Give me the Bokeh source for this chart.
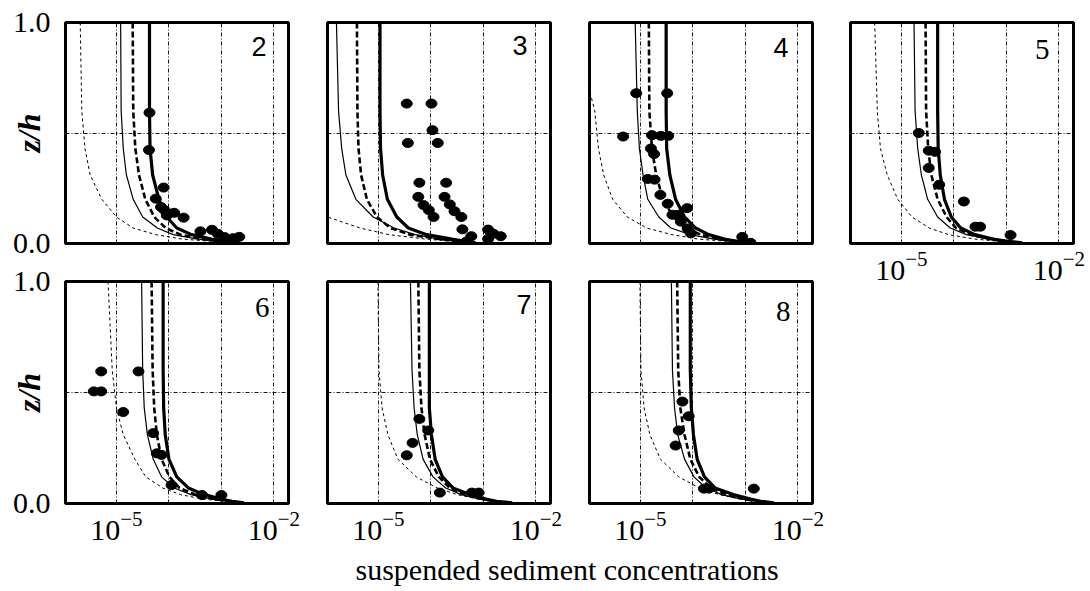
from bokeh.plotting import figure
from bokeh.layouts import row, column
from bokeh.models import FixedTicker, Label, PrintfTickFormatter, Range1d, LogTickFormatter
from bokeh.embed import file_html
from bokeh.resources import INLINE

# ---------------- data (concentrations as log10 values) ----------------
Z_LEVELS = [1.0, 0.6, 0.43, 0.31, 0.2, 0.12, 0.07, 0.04, 0.02, 0.01, 0.003]

P2_THICK = [-4.37, -4.37, -4.36, -4.31, -4.19, -4.04, -3.85, -3.57, -3.19, -2.90, -2.66]
P2_THICK_DASH = [-4.69, -4.68, -4.64, -4.57, -4.45, -4.28, -4.06, -3.78, -3.36, -3.00, -2.66]
P2_THIN = [-4.92, -4.91, -4.87, -4.81, -4.68, -4.50, -4.22, -3.92, -3.45, -3.05, -2.66]
P2_THIN_DASH = [-5.69, -5.66, -5.60, -5.50, -5.28, -5.00, -4.68, -4.25, -3.75, -3.20, -2.66]
P2_OBS_C = [-4.37, -4.38, -4.10, -4.25, -4.15, -4.04, -3.90, -3.72, -3.40, -3.18, -3.07, -2.94, -2.78, -2.66, -4.08]
P2_OBS_Z = [0.592, 0.423, 0.253, 0.203, 0.165, 0.127, 0.139, 0.117, 0.055, 0.062, 0.044, 0.029, 0.024, 0.030, 0.150]

P3_THICK = [-4.97, -4.97, -4.96, -4.92, -4.83, -4.65, -4.43, -4.08, -3.60, -3.35, -3.15]
P3_THICK_DASH = [-5.41, -5.40, -5.38, -5.33, -5.22, -5.03, -4.77, -4.40, -3.85, -3.45, -3.15]
P3_THIN = [-5.80, -5.76, -5.70, -5.62, -5.43, -5.10, -4.70, -4.30, -3.85, -3.50, -3.15]
P3_THIN_DASH = [-7.5, -7.2, -6.9, -6.6, -6.3, -5.97, -5.35, -4.80, -4.10, -3.60, -3.15]
P3_OBS_C = [-4.46, -3.99, -3.97, -4.44, -3.87, -4.22, -3.71, -4.24, -3.74, -4.14, -3.64, -4.04,
            -3.55, -3.95, -3.42, -3.40, -3.23, -2.91, -2.81, -2.67, -3.32, -2.91]
P3_OBS_Z = [0.633, 0.633, 0.513, 0.455, 0.455, 0.275, 0.275, 0.211, 0.211, 0.174, 0.177, 0.151,
            0.146, 0.120, 0.120, 0.064, 0.033, 0.063, 0.044, 0.033, 0.009, 0.021]

P4_THICK = [-4.51, -4.51, -4.50, -4.44, -4.33, -4.16, -3.95, -3.70, -3.40, -3.15, -2.84]
P4_THICK_DASH = [-4.84, -4.83, -4.78, -4.70, -4.57, -4.37, -4.15, -3.85, -3.48, -3.20, -2.84]
P4_THIN = [-5.10, -5.06, -5.02, -4.95, -4.86, -4.65, -4.42, -4.05, -3.60, -3.25, -2.84]
P4_THIN_DASH = [-6.30, -5.87, -5.80, -5.70, -5.53, -5.25, -4.88, -4.40, -3.90, -3.35, -2.84]
P4_OBS_C = [-5.08, -4.49, -5.33, -4.78, -4.61, -4.47, -4.80, -4.74, -4.86, -4.73, -4.62, -4.48,
            -4.39, -4.29, -4.11, -4.23, -4.10, -4.04, -3.06, -2.90]
P4_OBS_Z = [0.680, 0.680, 0.484, 0.490, 0.487, 0.487, 0.430, 0.405, 0.292, 0.289, 0.220, 0.180,
            0.130, 0.130, 0.160, 0.099, 0.068, 0.046, 0.030, 0.003]

P5_THICK = [-4.31, -4.31, -4.30, -4.26, -4.18, -4.05, -3.87, -3.60, -3.25, -2.98, -2.70]
P5_THICK_DASH = [-4.54, -4.53, -4.49, -4.43, -4.31, -4.14, -3.96, -3.68, -3.30, -3.02, -2.70]
P5_THIN = [-4.76, -4.74, -4.69, -4.62, -4.50, -4.31, -4.07, -3.76, -3.35, -3.05, -2.70]
P5_THIN_DASH = [-5.51, -5.46, -5.40, -5.27, -5.07, -4.80, -4.47, -4.10, -3.60, -3.15, -2.70]
P5_OBS_C = [-4.67, -4.48, -4.36, -4.48, -4.28, -3.81, -3.59, -3.50, -2.92]
P5_OBS_Z = [0.500, 0.420, 0.415, 0.342, 0.266, 0.190, 0.076, 0.076, 0.038]

P6_THICK = [-4.11, -4.11, -4.10, -4.07, -4.00, -3.85, -3.63, -3.33, -3.00, -2.80, -2.57]
P6_THICK_DASH = [-4.33, -4.31, -4.28, -4.23, -4.14, -3.99, -3.80, -3.50, -3.12, -2.85, -2.57]
P6_THIN = [-4.52, -4.50, -4.47, -4.41, -4.30, -4.14, -3.90, -3.58, -3.18, -2.88, -2.57]
P6_THIN_DASH = [-5.16, -5.08, -5.00, -4.87, -4.65, -4.44, -4.12, -3.78, -3.35, -2.95, -2.57]
P6_OBS_C = [-5.29, -4.58, -5.43, -5.29, -4.87, -4.30, -4.23, -4.14, -3.95, -3.37, -3.00]
P6_OBS_Z = [0.595, 0.595, 0.505, 0.505, 0.412, 0.317, 0.226, 0.219, 0.083, 0.038, 0.038]

P7_THICK = [-4.03, -4.03, -4.03, -3.99, -3.92, -3.78, -3.58, -3.25, -2.95, -2.75, -2.45]
P7_THICK_DASH = [-4.24, -4.22, -4.18, -4.12, -4.02, -3.85, -3.64, -3.35, -3.02, -2.78, -2.45]
P7_THIN = [-4.39, -4.36, -4.32, -4.26, -4.15, -3.96, -3.72, -3.42, -3.07, -2.80, -2.45]
P7_THIN_DASH = [-5.01, -4.99, -4.93, -4.82, -4.63, -4.28, -3.88, -3.50, -3.10, -2.82, -2.45]
P7_OBS_C = [-4.22, -4.05, -4.35, -4.46, -3.83, -3.22, -3.09]
P7_OBS_Z = [0.381, 0.329, 0.273, 0.217, 0.049, 0.049, 0.049]

P8_THICK = [-4.05, -4.05, -4.03, -3.99, -3.92, -3.78, -3.58, -3.23, -2.90, -2.71, -2.46]
P8_THICK_DASH = [-4.30, -4.28, -4.24, -4.16, -4.05, -3.88, -3.66, -3.36, -3.02, -2.78, -2.46]
P8_THIN = [-4.41, -4.39, -4.35, -4.29, -4.16, -3.98, -3.75, -3.45, -3.08, -2.80, -2.46]
P8_THIN_DASH = [-5.01, -4.99, -4.93, -4.82, -4.62, -4.27, -3.88, -3.50, -3.10, -2.82, -2.46]
P8_OBS_C = [-4.20, -4.08, -4.27, -4.33, -3.79, -3.70, -2.84]
P8_OBS_Z = [0.459, 0.393, 0.329, 0.261, 0.067, 0.067, 0.067]

GRID_DECADES = [1e-5, 1e-4, 1e-3, 1e-2]
X_TICKS = [1e-5, 1e-2]
Y_TICKS = [0.0, 1.0]
Y_GRID = [0.5]
X_TITLE = "suspended sediment concentrations"
Y_TITLE = "z/h"

# ---------------- layout constants (page has no margin) ----------------
X_MIN, X_MAX = 1.07e-6, 1.9e-2
FW = 223
LEFTS = [65, 20, 20, 20]
RIGHTS = [19, 19, 18, 15]
TOP_ROW = dict(top=22, fh=221, bottom=18)
BOT_ROW = dict(top=20, fh=222, bottom=47)
P5_ROW = dict(top=22, fh=221, bottom=60)
SERIF = "Liberation Serif"
SANS = "Liberation Sans"


def to_c(vals):
    return [10 ** v for v in vals]


def make_panel(num, curves, obs_c, obs_z, col, rr, ylab, xlab, num_dx, num_mid, num_font, num_size):
    left, right = LEFTS[col], RIGHTS[col]
    p = figure(width=left + FW + right, height=rr["top"] + rr["fh"] + rr["bottom"],
               x_axis_type="log", x_range=Range1d(X_MIN, X_MAX), y_range=Range1d(0, 1),
               output_backend="svg", toolbar_location=None,
               min_border_left=left, min_border_right=right,
               min_border_top=rr["top"], min_border_bottom=rr["bottom"])
    p.background_fill_color = "white"
    p.border_fill_color = "white"
    p.outline_line_color = "black"
    p.outline_line_width = 3

    xa = p.xaxis[0]
    xa.axis_line_color = None
    xa.major_tick_line_color = None
    xa.minor_tick_line_color = None
    xa.major_tick_out = 0
    xa.minor_tick_out = 0
    if xlab:
        xa.ticker = FixedTicker(ticks=X_TICKS)
        xa.formatter = LogTickFormatter()
        xa.major_label_text_font = SERIF
        xa.major_label_text_font_size = "30px"
        xa.major_label_text_color = "black"
        xa.major_label_standoff = 8
    else:
        xa.ticker = FixedTicker(ticks=[])

    ya = p.yaxis[0]
    ya.axis_line_color = None
    ya.major_tick_line_color = None
    ya.minor_tick_line_color = None
    ya.major_tick_out = 0
    ya.minor_tick_out = 0
    if ylab:
        ya.ticker = FixedTicker(ticks=Y_TICKS)
        ya.formatter = PrintfTickFormatter(format="%.1f")
        ya.major_label_text_font = SERIF
        ya.major_label_text_font_size = "30px"
        ya.major_label_text_color = "black"
        ya.major_label_standoff = 15
        ya.axis_label = Y_TITLE
        ya.axis_label_text_font = SERIF
        ya.axis_label_text_font_style = "bold italic"
        ya.axis_label_text_font_size = "32px"
        ya.axis_label_text_color = "black"
        ya.axis_label_standoff = -37
    else:
        ya.ticker = FixedTicker(ticks=[])

    p.xgrid.ticker = FixedTicker(ticks=GRID_DECADES)
    p.ygrid.ticker = FixedTicker(ticks=Y_GRID)
    for g in (p.xgrid, p.ygrid):
        g.grid_line_color = "black"
        g.grid_line_width = 1
        g.grid_line_dash = "4 2 1 2"
        g.grid_line_alpha = 0.9

    thick, thick_dash, thin, thin_dash = curves
    p.line(to_c(thin_dash), Z_LEVELS, line_color="black", line_width=1, line_dash="3 3")
    p.line(to_c(thin), Z_LEVELS, line_color="black", line_width=1.2)
    p.line(to_c(thick_dash), Z_LEVELS, line_color="black", line_width=2.6, line_dash="6 3")
    p.line(to_c(thick), Z_LEVELS, line_color="black", line_width=3.2)
    p.ellipse(x=to_c(obs_c), y=obs_z, width=11, height=9, width_units="screen",
              height_units="screen", fill_color="black", line_color="black")

    p.add_layout(Label(x=FW - num_dx, y=num_mid, x_units="screen", y_units="screen",
                       text=num, text_align="right", text_baseline="middle",
                       text_font=num_font, text_font_size=num_size, text_color="black"))
    return p


p2 = make_panel("2", (P2_THICK, P2_THICK_DASH, P2_THIN, P2_THIN_DASH), P2_OBS_C, P2_OBS_Z,
                0, TOP_ROW, True, False, 22, 197, SANS, "27px")
p3 = make_panel("3", (P3_THICK, P3_THICK_DASH, P3_THIN, P3_THIN_DASH), P3_OBS_C, P3_OBS_Z,
                1, TOP_ROW, False, False, 23, 198, SANS, "27px")
p4 = make_panel("4", (P4_THICK, P4_THICK_DASH, P4_THIN, P4_THIN_DASH), P4_OBS_C, P4_OBS_Z,
                2, TOP_ROW, False, False, 24, 196, SANS, "27px")
p5 = make_panel("5", (P5_THICK, P5_THICK_DASH, P5_THIN, P5_THIN_DASH), P5_OBS_C, P5_OBS_Z,
                3, P5_ROW, False, True, 24, 194, SERIF, "29px")
p6 = make_panel("6", (P6_THICK, P6_THICK_DASH, P6_THIN, P6_THIN_DASH), P6_OBS_C, P6_OBS_Z,
                0, BOT_ROW, True, True, 19, 196, SERIF, "29px")
p7 = make_panel("7", (P7_THICK, P7_THICK_DASH, P7_THIN, P7_THIN_DASH), P7_OBS_C, P7_OBS_Z,
                1, BOT_ROW, False, True, 19, 199, SANS, "27px")
p8 = make_panel("8", (P8_THICK, P8_THICK_DASH, P8_THIN, P8_THIN_DASH), P8_OBS_C, P8_OBS_Z,
                2, BOT_ROW, False, True, 22, 192, SERIF, "29px")

total_w = sum(LEFTS) + sum(RIGHTS) + 4 * FW
tp = figure(width=total_w, height=40, x_range=Range1d(0, 1), y_range=Range1d(0, 1),
            x_axis_location=None, y_axis_location=None, output_backend="svg",
            toolbar_location=None, min_border=0)
tp.outline_line_color = None
tp.xgrid.visible = False
tp.ygrid.visible = False
tp.background_fill_color = "white"
tp.border_fill_color = "white"
tp.add_layout(Label(x=355, y=21, x_units="screen", y_units="screen", text=X_TITLE,
                    text_align="left", text_baseline="middle",
                    text_font=SERIF, text_font_size="30px", text_color="black"))

grid = row(column(p2, p6), column(p3, p7), column(p4, p8), p5)
layout = column(grid, tp)

open("out.html", "w").write(file_html(layout, INLINE))
